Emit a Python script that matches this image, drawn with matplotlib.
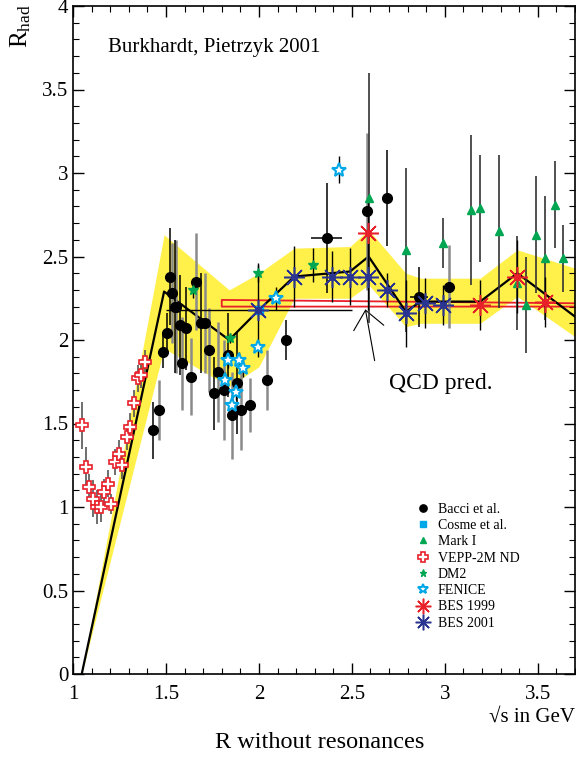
import numpy as np
import matplotlib
matplotlib.use("Agg")
import matplotlib.pyplot as plt
from matplotlib.lines import Line2D
from matplotlib.ticker import MultipleLocator

plt.rcParams['font.family'] = ['Liberation Serif', 'DejaVu Serif']
plt.rcParams['mathtext.fontset'] = 'custom'
plt.rcParams['mathtext.rm'] = 'Liberation Serif'

# average curve with its error band
avg_x  = [1.047, 1.49, 1.84, 2.00, 2.19, 2.49, 2.59, 2.79, 2.87, 3.19, 3.39, 3.70]
avg_y  = [0.00, 2.29, 2.00, 2.18, 2.38, 2.41, 2.50, 2.17, 2.23, 2.23, 2.40, 2.14]
band_hi = [0.00, 2.63, 2.30, 2.40, 2.55, 2.56, 2.66, 2.40, 2.37, 2.37, 2.54, 2.43]
band_lo = [0.00, 1.95, 1.72, 1.84, 2.25, 2.25, 2.33, 2.08, 2.10, 2.10, 2.26, 2.02]

# QCD prediction (two edges of the band)
qcd_x  = [1.80, 3.70]
qcd_hi = [2.24, 2.22]
qcd_lo = [2.20, 2.20]

# Bacci et al.
bacci_x = [1.431, 1.461, 1.484, 1.508, 1.524, 1.535, 1.548, 1.556, 1.574, 1.584,
           1.609, 1.633, 1.660, 1.686, 1.708, 1.733, 1.759, 1.779, 1.810, 1.833,
           1.856, 1.881, 1.906, 1.954, 2.044, 2.145, 2.364, 2.583, 2.691, 2.861, 3.025]
bacci_y = [1.46, 1.58, 1.93, 2.04, 2.38, 2.28, 2.20, 2.20, 2.09, 1.86,
           2.07, 1.78, 2.35, 2.10, 2.10, 1.94, 1.68, 1.81, 1.70, 1.91,
           1.55, 1.74, 1.58, 1.61, 1.76, 2.00, 2.61, 2.77, 2.85, 2.26, 2.32]
bacci_err = [0.17, 0.18, 0.10, 0.12, 0.29, 0.30, 0.40, 0.40, 0.30, 0.28,
             0.25, 0.23, 0.29, 0.30, 0.30, 0.25, 0.22, 0.30, 0.30, 0.25,
             0.26, 0.30, 0.24, 0.16, 0.18, 0.12, 0.33, 0.47, 0.29, 0.18, 0.25]
bacci_xerr = [0]*26 + [0.085, 0, 0, 0.05, 0.025]
bacci_grey = [0, 1, 0, 0, 0, 1, 0, 1, 0, 1,
              0, 1, 1, 0, 1, 1, 0, 1, 1, 0,
              1, 0, 1, 1, 1, 0, 0, 1, 0, 0, 1]

# Cosme et al.
cosme_x, cosme_y, cosme_xerr = [2.0], [2.18], [0.5]

# Mark I
mark_x = [2.592, 2.789, 2.991, 3.139, 3.191, 3.290, 3.388, 3.438, 3.490, 3.540, 3.590, 3.638]
mark_y = [2.85, 2.54, 2.58, 2.78, 2.79, 2.65, 2.34, 2.21, 2.63, 2.49, 2.81, 2.49]
mark_err = [0.75, 0.49, 0.15, 0.45, 0.32, 0.46, 0.28, 0.29, 0.35, 0.37, 0.26, 0.20]

# VEPP-2M ND
vepp_x = [1.047, 1.068, 1.087, 1.107, 1.127, 1.148, 1.166, 1.188, 1.207,
          1.227, 1.247, 1.266, 1.288, 1.306, 1.327, 1.347, 1.368, 1.388]
vepp_y = [1.49, 1.24, 1.12, 1.05, 1.00, 1.00, 1.09, 1.14, 1.02,
          1.27, 1.32, 1.25, 1.42, 1.48, 1.62, 1.77, 1.79, 1.87]
vepp_err = [0.14, 0.12, 0.08, 0.11, 0.10, 0.09, 0.08, 0.08, 0.06,
            0.08, 0.08, 0.08, 0.08, 0.08, 0.08, 0.08, 0.08, 0.07]

# DM2
dm2_x = [1.645, 1.842, 1.994, 2.292]
dm2_y = [2.30, 2.01, 2.40, 2.45]
dm2_err = [0.05, 0.03, 0.05, 0.10]

# FENICE
fen_x = [1.815, 1.836, 1.854, 1.877, 1.892, 1.913, 1.994, 2.092, 2.432]
fen_y = [1.76, 1.88, 1.61, 1.69, 1.88, 1.83, 1.96, 2.25, 3.02]
fen_err = [0.05, 0.05, 0.05, 0.05, 0.05, 0.05, 0.0, 0.07, 0.08]

# BES 1999
bes99_x = [2.587, 3.191, 3.388, 3.540]
bes99_y = [2.64, 2.21, 2.38, 2.23]
bes99_err = [0.20, 0.15, 0.22, 0.15]

# BES 2001
bes01_x = [1.996, 2.190, 2.392, 2.491, 2.587, 2.691, 2.789, 2.893, 2.991]
bes01_y = [2.18, 2.38, 2.38, 2.38, 2.38, 2.30, 2.16, 2.22, 2.21]
bes01_err = [0.28, 0.18, 0.15, 0.17, 0.20, 0.10, 0.20, 0.15, 0.12]

RED = '#e8202a'
CYAN = '#00a8e8'
GREEN = '#00a651'
NAVY = '#2a3592'
GREY = '#8a8a8a'
AST = (8, 2, 0)

fig = plt.figure(figsize=(5.76, 7.58), dpi=100)
ax = fig.add_axes([73/576, 84/758, 502/576, 668/758])

ax.fill_between(avg_x, band_lo, band_hi, color='#fff04a', lw=0, zorder=1)
ax.plot(avg_x, avg_y, color='black', lw=1.6, zorder=3)

ax.plot([qcd_x[1], qcd_x[0], qcd_x[0], qcd_x[1]],
        [qcd_hi[1], qcd_hi[0], qcd_lo[0], qcd_lo[1]], color=RED, lw=1.3, zorder=2)

# error bars first, markers on top
bx = np.array(bacci_x); by = np.array(bacci_y)
be = np.array(bacci_err); bxe = np.array(bacci_xerr)
g = np.array(bacci_grey, dtype=bool)
ax.errorbar(bx[g], by[g], yerr=be[g], xerr=bxe[g], fmt='none', ecolor=GREY, elinewidth=1.8, zorder=4)
ax.errorbar(bx[~g], by[~g], yerr=be[~g], xerr=bxe[~g], fmt='none', ecolor='black', elinewidth=1.1, zorder=4)
ax.errorbar(cosme_x, cosme_y, xerr=cosme_xerr, fmt='none', ecolor='black', elinewidth=1.0, zorder=4)
ax.errorbar(mark_x, mark_y, yerr=mark_err, fmt='none', ecolor='#333333', elinewidth=1.2, zorder=4)
ax.errorbar(vepp_x, vepp_y, yerr=vepp_err, fmt='none', ecolor='#555555', elinewidth=1.2, zorder=4)
ax.errorbar(dm2_x, dm2_y, yerr=dm2_err, fmt='none', ecolor='black', elinewidth=1.0, zorder=4)
ax.errorbar(fen_x, fen_y, yerr=fen_err, fmt='none', ecolor='black', elinewidth=1.0, zorder=4)
ax.errorbar(bes99_x, bes99_y, yerr=bes99_err, fmt='none', ecolor='black', elinewidth=1.0, zorder=4)
ax.errorbar(bes01_x, bes01_y, yerr=bes01_err, fmt='none', ecolor='black', elinewidth=1.0, zorder=4)

styles = {
    'Bacci et al.': dict(marker='o', color='black', ms=7),
    'Cosme et al.': dict(marker='s', color=CYAN, ms=6),
    'Mark I': dict(marker='^', color=GREEN, ms=6),
    'VEPP-2M ND': dict(marker='P', mfc='white', mec=RED, mew=1.2, ms=9),
    'DM2': dict(marker='*', color=GREEN, ms=7),
    'FENICE': dict(marker='*', mfc='white', mec=CYAN, mew=1.5, ms=10),
    'BES 1999': dict(marker=AST, color=RED, mew=1.1, ms=15),
    'BES 2001': dict(marker=AST, color=NAVY, mew=1.1, ms=15),
}
series = [('Bacci et al.', bacci_x, bacci_y), ('Cosme et al.', cosme_x, cosme_y),
          ('Mark I', mark_x, mark_y), ('VEPP-2M ND', vepp_x, vepp_y),
          ('DM2', dm2_x, dm2_y), ('FENICE', fen_x, fen_y),
          ('BES 1999', bes99_x, bes99_y), ('BES 2001', bes01_x, bes01_y)]
for name, xs, ys in series:
    ax.plot(xs, ys, ls='none', zorder=5, **styles[name])
# little filled centre on the asterisks
ax.plot(bes99_x, bes99_y, 'o', color=RED, ms=4, zorder=6)
ax.plot(bes01_x, bes01_y, 'o', color=NAVY, ms=4, zorder=6)

handles = []
for n, _, _ in series:
    st = dict(styles[n])
    st['ms'] = st['ms'] * 0.75
    handles.append(Line2D([], [], ls='none', **st))
ax.legend(handles, [n for n, _, _ in series], loc='upper left',
          bbox_to_anchor=(0.66, 0.275), frameon=False, fontsize=10,
          handlelength=0.9, handletextpad=0.6, labelspacing=0.235, numpoints=1)

ax.annotate('', xy=(2.57, 2.20), xytext=(2.625, 1.86),
            arrowprops=dict(arrowstyle='->,head_length=1.3,head_width=1.1',
                            lw=0.8, color='black'))
ax.text(2.70, 1.74, 'QCD pred.', fontsize=17, va='center')
ax.text(1.19, 3.75, 'Burkhardt, Pietrzyk 2001', fontsize=15, va='center')

ax.set_xlim(1, 3.7)
ax.set_ylim(0, 4)
ax.xaxis.set_minor_locator(MultipleLocator(0.1))
ax.yaxis.set_minor_locator(MultipleLocator(0.1))
ax.set_xticks([1, 1.5, 2, 2.5, 3, 3.5])
ax.set_xticklabels(['1', '1.5', '2', '2.5', '3', '3.5'])
ax.set_yticks([0, 0.5, 1, 1.5, 2, 2.5, 3, 3.5, 4])
ax.set_yticklabels(['0', '0.5', '1', '1.5', '2', '2.5', '3', '3.5', '4'])
ax.tick_params(which='both', direction='in', top=True, right=True, labelsize=15)
ax.tick_params(which='major', length=8, width=1.0)
ax.tick_params(which='minor', length=4, width=0.8)
ax.tick_params(axis='x', pad=8)
for s in ax.spines.values():
    s.set_linewidth(1.2)

fig.text(575/576, 1 - 717/758, '\u221as in GeV', ha='right', va='center', fontsize=15)
fig.text(320/576, 1 - 742/758, 'R without resonances', ha='center', va='center', fontsize=17.5)
fig.text(8/576, 1 - 4/758, r'$\mathregular{R_{had}}$', rotation=90, ha='left', va='top', fontsize=18)

fig.savefig('out.png', dpi=100)
